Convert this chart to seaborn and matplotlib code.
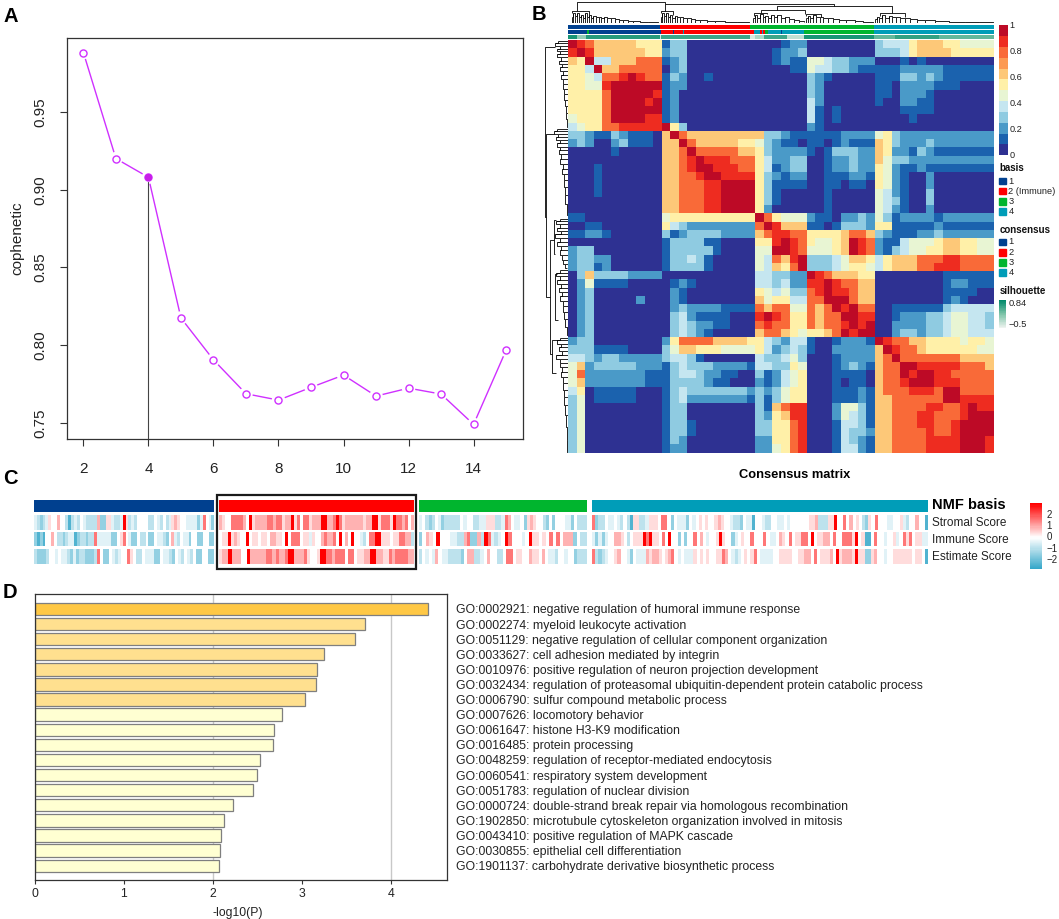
import numpy as np
import pandas as pd
import matplotlib
matplotlib.use("Agg")
import matplotlib.pyplot as plt
from matplotlib.colors import ListedColormap, LinearSegmentedColormap
from matplotlib.patches import Rectangle
import seaborn as sns

# ---------- panel A ----------
ranks = [2, 3, 4, 5, 6, 7, 8, 9, 10, 11, 12, 13, 14, 15]
cophenetic = [0.9882, 0.920, 0.908, 0.8175, 0.7906, 0.7688, 0.7647, 0.7729,
              0.7808, 0.7673, 0.7724, 0.7686, 0.7491, 0.7968]
best_rank = 4

# ---------- panel B ----------
# consensus levels on a coarse grid (0..9, a = colour band)
consensus_rows = """
a9877777666 13300000000 000122 00000000 34446777665555
9a977777766 23300000000 001223 00000000 33346777766666
76a44777888 12300000000 001211 55433222 00010100000000
664a7788888 02300000000 000011 54433211 11122222111111
6654889a988 13200100000 000000 32100000 11133232111111
66559aaaaaa 12200000000 000000 32000000 11022221110000
66668aaaaa9 12000000000 000000 32000000 11022210000000
66668aaaa9a 12000000000 000000 42000000 10022110000000
66668aaaaaa 12000000000 000000 41010000 00011110000000
56668aaaa99 12000000000 000000 41010000 00001000000000
45668899999 a6300000000 000000 21000000 00000000000000
33211321110 7a877777777 733211 11112222 56322222222222
23200231110 77a87777766 532110 11012111 76322232222222
00000100000 778a8888877 632222 10133322 76221321111111
00000000000 7789a999888 642233 00122322 75332222222222
00010000000 7789aa99988 641233 00122322 65211211111111
00010000000 77889aa9999 632122 00111221 65210020000000
00010000000 7788899aaaa 631111 00110110 65210020000000
00010000000 7788899aaaa 631000 00100000 54210030000000
00000000000 7788899aaaa 631000 00100000 54310030000000
00000000000 7788899aaaa 620000 00100000 54210020000000
11000000000 56666666666 a86555 21102232 53122221222222
00110000000 64322222222 8a9777 11013332 66111112111111
11221000000 31233332222 789988 66667887 32111223222222
00000000000 13333110000 669a98 65567a98 21145556776655
23300000000 13333310000 55aa98 55567a98 21345566776655
23322000000 13343100000 54879a 33345776 46777888998888
23312000000 13333100000 54768a 33345665 46777889998888
03733332222 00000000000 443322 a9877766 00000000111111
02511110000 01210000000 443422 99a98877 00000000122111
02300000000 02100000000 654533 89a99877 00000000111100
02300000200 02100000000 756644 88aaa877 00000000121000
02300000000 02322221111 878855 878a9a88 00111111344444
02300000000 03421111000 9a9866 8788aa99 00122233455443
02300000000 03432211000 898866 87889a9a 00222233455443
02300000000 03432100000 788765 6678a9aa 00233233455444
23300000000 26888877776 643244 10012221 a9887766665665
33311110000 35776665555 642343 10022222 7a988766666655
44323322222 34431000000 433453 00012222 78a88888887777
57233333222 13433322221 443365 00012321 788aa999998887
58222222211 13443221100 312456 00011110 788a9aa9988888
57222222211 13333211000 212456 00010110 7889aaa9998888
46011111000 13433333332 323566 00011121 78889998aa8888
35011111000 13422222221 313566 00011121 77888888aa9999
35000000000 13300000000 317899 00025531 77888899889a99
35000000000 13300000000 326799 00025431 77888998889aaa
35000000000 13310000000 336689 00014431 7788899889aaaa
35000000000 13310000000 336689 00014332 7788889889aaaa
35000000000 13200000000 226689 00014321 7788889999aaa9
35000000000 12200000000 225689 00014421 7788889999aaa9
"""
band_of_char = {"0": 0, "1": 1, "2": 2, "3": 3, "4": 4, "5": 5, "6": 6,
                "7": 7, "8": 9, "9": 10, "a": 11}
band_colors = ["#2E3192", "#1B62AE", "#4A9AC8", "#8FCBE1", "#C5E6F0", "#E8F5D3",
               "#FFF0A8", "#FDC878", "#FC9A52", "#F96A38", "#EE2C20", "#BD0A26"]
band_ticks = ["0", "0.2", "0.4", "0.6", "0.8", "1"]

basis_colors = ["#00408F", "#FF0000", "#00B52E", "#009DB8"]
basis_runs = [(0, 273), (1, 270), (2, 368), (3, 357)]
consensus_runs = [(0, 58), (2, 4), (0, 216), (1, 35), (0, 3), (1, 25), (3, 4), (1, 208),
                  (3, 18), (1, 5), (3, 5), (1, 5), (2, 10), (3, 37), (0, 3), (3, 67),
                  (2, 208), (3, 357)]
silhouette_runs = [(0.9, 28), (0.4, 25), (0.85, 220), (0.1, 5), (0.75, 265), (0.1, 15),
                   (0.3, 25), (0.75, 70), (0.2, 50), (0.9, 208), (0.6, 62), (0.8, 130),
                   (0.6, 165)]

# dendrogram merges: (left pos, left end, right pos, right end, height)
top_merges = [(133, 30, 396, 8, 3), (396, 32, 900, 16, 8), (728, 28, 1072, 38, 16),
              (680, 38, 812, 40, 28), (662, 46, 700, 40, 36), (1035, 46, 1110, 50, 38),
              (120, 38, 170, 42, 30), (385, 38, 420, 44, 32), (815, 46, 860, 48, 40)]
top_stairs = [
    [(118, 50), (122, 38), (128, 46), (134, 36), (140, 50), (146, 42), (152, 52), (158, 38), (164, 48),
     (170, 44), (176, 54), (182, 46), (190, 50), (198, 48), (206, 54), (214, 50), (224, 54), (234, 52),
     (246, 56), (258, 58), (270, 60), (285, 61), (300, 63), (320, 64), (345, 66), (375, 67)],
    [(384, 50), (388, 36), (394, 46), (400, 38), (406, 50), (412, 44), (418, 52), (424, 46), (432, 50),
     (440, 48), (450, 54), (460, 52), (472, 56), (486, 58), (500, 60), (520, 62), (545, 63), (575, 65),
     (610, 66), (645, 67)],
    [(658, 54), (664, 44), (670, 52), (678, 40), (686, 50), (694, 46), (702, 52), (710, 44), (720, 50),
     (730, 44), (742, 52), (754, 50), (766, 56), (780, 60), (795, 63), (808, 66)],
    [(814, 54), (820, 46), (828, 52), (836, 44), (846, 50), (856, 48), (866, 54), (880, 52), (895, 56),
     (915, 58), (935, 60), (960, 62), (985, 65), (1014, 67)],
    [(1020, 56), (1026, 48), (1034, 54), (1042, 44), (1052, 52), (1062, 46), (1072, 50), (1084, 50),
     (1096, 54), (1110, 52), (1126, 56), (1145, 58), (1170, 60), (1200, 62), (1240, 64), (1290, 65),
     (1330, 66), (1372, 67)],
]
left_merges = [(140, 72, 650, 47, 44), (400, 70, 890, 57, 47), (720, 68, 1060, 62, 57),
               (660, 75, 760, 72, 68), (1020, 80, 1120, 75, 62), (820, 76, 960, 80, 72)]
left_stairs = [
    [(122, 80), (128, 72), (136, 84), (144, 76), (152, 86), (160, 78), (170, 88), (180, 82), (190, 90),
     (200, 84), (212, 92), (224, 88), (236, 94), (250, 92), (264, 96), (280, 97), (298, 100), (316, 101),
     (336, 102), (356, 104), (378, 106)],
    [(385, 76), (392, 70), (400, 80), (408, 74), (418, 84), (428, 78), (438, 86), (450, 82), (462, 88),
     (476, 86), (490, 92), (505, 90), (520, 95), (540, 96), (560, 98), (585, 100), (610, 103), (645, 106)],
    [(655, 84), (662, 75), (672, 84), (682, 78), (692, 88), (702, 72), (712, 84), (724, 78), (736, 88),
     (750, 84), (764, 90), (778, 94), (792, 100), (803, 105)],
    [(810, 84), (818, 75), (828, 84), (838, 78), (850, 88), (862, 82), (874, 90), (888, 86), (902, 92),
     (918, 94), (936, 96), (956, 100), (980, 103), (1005, 106)],
    [(1012, 86), (1020, 78), (1030, 88), (1040, 82), (1052, 90), (1064, 75), (1076, 86), (1088, 84),
     (1100, 90), (1116, 88), (1132, 92), (1150, 92), (1170, 95), (1192, 97), (1216, 98), (1245, 101),
     (1280, 103), (1320, 105), (1355, 106)],
]

# ---------- panel C ----------
score_names = ["Stromal Score", "Immune Score", "Estimate Score"]
score_level = {"D": -2.4, "C": -1.5, "B": -0.9, "A": -0.4, "0": 0.0,
               "1": 0.4, "2": 0.9, "3": 1.6, "4": 3.0}
blue_scores = [
    "ABCBA100200BDBAB0ABBBB2CC11ABBA41BAB0000BB0AB0BA12100AAAACA30AC",
    "CDCD0020BBCBAADCBBCBB3AAAAACC0130ACC0BB0CC0AABC02AB0AAC00CC00CC",
    "BCCCB00A0AABCACBBCCCB30CC0ABA00310BB0AAACC0AABC0AB0AB0CC00CC",
]
red_scores = [
    "21003333204122" "2233233122413033122244223431222222122441333143323 02".replace(" ", ""),
    "01141210040110" "110221104033301 1A10023 22304020400AB03344111011 33 22B".replace(" ", ""),
    "1224222004222" "223323223 442223100144332333033011224422113233332 2".replace(" ", ""),
]
green_scores = [
    "A0BCB0ACBBBBB0A00BBAA" "111BBA320AA0C1210 0BC0C000AAC0BBB".replace(" ", ""),
    "C0210400 0AABB23CC2B".replace(" ", "") + "43ABA0430 00A0411010303022 2C0BB".replace(" ", ""),
    "B0A0A20AABBBBC022BBA0" "200BB0330110021 102 0AAB00A00CBBB".replace(" ", ""),
]
teal_scores = [
    "3CBB0AA0AB0BD11BBA1110330C0AAAC0A01010"
    "0121 00ABBC 0AAD00ABB00AA0A0000001 12BBB1140 030201 0BC10300 0AA0 01AB00200D".replace(" ", ""),
    "ACACA00221 0B01114341 103040 0C0C0030 20A".replace(" ", "")
    + "0014 1 00CA0100300 03 0AA0210 30113 304 0112 20 30 0333 14 01DD03 00A00 1A0 3 13 011AA".replace(" ", ""),
    "3BCBA0012 00AC0AAA2122101230A0AAA10 1010".replace(" ", "")
    + "0113 20AB A0 1013 0AAAA0011110 01122 0301112 041 222 14 11CC12 00A00111111 0110D".replace(" ", ""),
]
color_scale_ticks = [2, 1, 0, -1, -2]

# ---------- panel D ----------
go_terms = [
    "GO:0002921: negative regulation of humoral immune response",
    "GO:0002274: myeloid leukocyte activation",
    "GO:0051129: negative regulation of cellular component organization",
    "GO:0033627: cell adhesion mediated by integrin",
    "GO:0010976: positive regulation of neuron projection development",
    "GO:0032434: regulation of proteasomal ubiquitin-dependent protein catabolic process",
    "GO:0006790: sulfur compound metabolic process",
    "GO:0007626: locomotory behavior",
    "GO:0061647: histone H3-K9 modification",
    "GO:0016485: protein processing",
    "GO:0048259: regulation of receptor-mediated endocytosis",
    "GO:0060541: respiratory system development",
    "GO:0051783: regulation of nuclear division",
    "GO:0000724: double-strand break repair via homologous recombination",
    "GO:1902850: microtubule cytoskeleton organization involved in mitosis",
    "GO:0043410: positive regulation of MAPK cascade",
    "GO:0030855: epithelial cell differentiation",
    "GO:1901137: carbohydrate derivative biosynthetic process",
]
minus_log_p = [4.41, 3.70, 3.59, 3.246, 3.164, 3.156, 3.03, 2.775, 2.69, 2.674,
               2.524, 2.494, 2.446, 2.225, 2.128, 2.087, 2.076, 2.068]
go_colors = ["#FFC845"] + ["#FFE08F"] * 6 + ["#FFFFD2"] * 11

# ---------- drawing ----------
sns.set_theme(style="white")
plt.rcParams["font.family"] = ["Liberation Sans", "DejaVu Sans"]
plt.rcParams["axes.unicode_minus"] = True

W, H = 1059, 919
fig = plt.figure(figsize=(W / 100, H / 100), dpi=100, facecolor="white")


def pax(x0, y0, x1, y1):
    return fig.add_axes([x0 / W, 1 - y1 / H, (x1 - x0) / W, (y1 - y0) / H])


def ftext(x, y, s, **kw):
    kw.setdefault("va", "center")
    kw.setdefault("color", "#111111")
    fig.text(x / W, 1 - y / H, s, **kw)


for letter, (lx, ly) in {"A": (3, 16), "B": (532, 15), "C": (3, 478), "D": (3, 592)}.items():
    ftext(lx, ly, letter, fontsize=14.5, fontweight="bold", color="black")

# A
ax = pax(66.5, 37.6, 523, 439)
a_df = pd.DataFrame({"rank": ranks, "cophenetic": cophenetic})
purple = "#CF30FF"
sns.lineplot(data=a_df, x="rank", y="cophenetic", ax=ax, color=purple, lw=1.0, zorder=2)
sns.scatterplot(data=a_df, x="rank", y="cophenetic", ax=ax, s=95, color="white",
                edgecolor="none", zorder=3, legend=False)
sns.scatterplot(data=a_df, x="rank", y="cophenetic", ax=ax, s=26, color="white",
                edgecolor=purple, linewidth=1.0, zorder=4, legend=False)
ax.plot([best_rank], [cophenetic[ranks.index(best_rank)]], "o", ms=5.2, color="#C81EE8", mew=0, zorder=5)
ax.plot([best_rank, best_rank], [0.7397, 0.905], color="#444444", lw=0.8, zorder=3.5)
ax.set_xlim(1.48, 15.52)
ax.set_ylim(0.7397, 0.9978)
ax.set_xticks([2, 4, 6, 8, 10, 12, 14])
ax.set_yticks([0.75, 0.80, 0.85, 0.90, 0.95])
ax.set_yticklabels(["0.75", "0.80", "0.85", "0.90", "0.95"], rotation=90, va="center")
ax.tick_params(axis="both", length=5, width=0.8, color="#333333", labelsize=11, labelcolor="#222222", left=True, bottom=True)
ax.tick_params(axis="x", pad=11.5)
ax.tick_params(axis="y", pad=9)
ax.set_xlabel("")
ax.set_ylabel("cophenetic", fontsize=11, color="#222222", labelpad=6)
for s in ax.spines.values():
    s.set_color("#333333")
    s.set_linewidth(0.9)

# B
HL, HR, HT, HB = 568, 994, 40, 452.7
rows = [r.replace(" ", "") for r in consensus_rows.strip().splitlines()]
assert all(len(r) == 50 for r in rows), [len(r) for r in rows]
levels = np.array([[band_of_char[c] for c in r] for r in rows])
band_cmap = ListedColormap(band_colors)
ax = pax(HL, HT, HR, HB)
sns.heatmap(levels, ax=ax, cmap=band_cmap, vmin=-0.5, vmax=11.5, cbar=False,
            xticklabels=False, yticklabels=False, rasterized=True)

# annotation strips
cat_cmap = ListedColormap(basis_colors)
for (y0, y1, runs) in [(25.3, 29, basis_runs), (30, 33.7, consensus_runs)]:
    ax = pax(HL, y0, HR, y1)
    arr = np.concatenate([np.repeat(v, n) for v, n in runs])[None, :]
    sns.heatmap(arr, ax=ax, cmap=cat_cmap, vmin=-0.5, vmax=3.5, cbar=False,
                xticklabels=False, yticklabels=False)
sil_cmap = LinearSegmentedColormap.from_list("sil", ["#EEF3EF", "#7CC4A8", "#00896A"])
ax = pax(HL, 35, HR, 38.7)
arr = np.concatenate([np.repeat(v, n) for v, n in silhouette_runs])[None, :]
sns.heatmap(arr, ax=ax, cmap=sil_cmap, vmin=0, vmax=1, cbar=False, xticklabels=False, yticklabels=False)

# dendrograms
dk = dict(color="black", lw=0.6, solid_capstyle="butt")
ax = pax(HL, 1, HR, 23)
for xl, bl, xr, br, h in top_merges:
    ax.plot([xl, xl, xr, xr], [bl, h, h, br], **dk)
for st in top_stairs:
    for (x0, h0), (x1, h1) in zip(st[:-1], st[1:]):
        ax.plot([x0, x0], [68, h0], **dk)
        ax.plot([x0, x1, x1], [h0, h0, h1], **dk)
    ax.plot([st[0][0], st[-1][0]], [68, 68], **dk)
ax.set_xlim(107, 1375)
ax.set_ylim(68, 0)
ax.axis("off")

ax = pax(545, HT, HL, HB)
for yl, dl, yr, dr, d in left_merges:
    ax.plot([dl, d, d, dr], [yl, yl, yr, yr], **dk)
for st in left_stairs:
    for (y0, d0), (y1, d1) in zip(st[:-1], st[1:]):
        ax.plot([d0, 107], [y0, y0], **dk)
        ax.plot([d0, d0, d1], [y0, y1, y1], **dk)
    ax.plot([106, 106], [st[0][0], st[-1][0]], **dk)
ax.set_xlim(44, 107)
ax.set_ylim(1358, 118)
ax.axis("off")

# colour bar B
ax = pax(999.3, 25.3, 1007.7, 155.3)
sns.heatmap(np.arange(12)[:, None], ax=ax, cmap=band_cmap, vmin=-0.5, vmax=11.5, cbar=False,
            xticklabels=False, yticklabels=False)
ax.invert_yaxis()
for lab, y in zip(band_ticks, [155, 129.5, 104, 78, 52, 26]):
    ftext(1009.5, y, lab, fontsize=6.6, color="#222222")

# legends B
ftext(999.5, 168, "basis", fontsize=7, fontweight="bold")
for c, lab, y in zip(basis_colors, ["1", "2 (Immune)", "3", "4"], [181, 191, 201.2, 211.4]):
    fig.patches.append(Rectangle((999.3 / W, 1 - (y + 3.3) / H), 6.7 / W, 6.6 / H, transform=fig.transFigure, color=c))
    ftext(1008.3, y, lab, fontsize=6.7, color="#222222")
ftext(999.5, 230, "consensus", fontsize=7, fontweight="bold")
for c, lab, y in zip(basis_colors, ["1", "2", "3", "4"], [242, 252.3, 262.5, 272.7]):
    fig.patches.append(Rectangle((999.3 / W, 1 - (y + 3.3) / H), 6.7 / W, 6.6 / H, transform=fig.transFigure, color=c))
    ftext(1008.3, y, lab, fontsize=6.7, color="#222222")
ftext(999.5, 291, "silhouette", fontsize=7, fontweight="bold")
ax = pax(999.3, 300, 1006, 328)
sns.heatmap(np.linspace(1, 0, 40)[:, None], ax=ax, cmap=sil_cmap, vmin=0, vmax=1, cbar=False,
            xticklabels=False, yticklabels=False)
ftext(1008.3, 303.5, "0.84", fontsize=6.7, color="#222222")
ftext(1008.3, 324.5, "\u22120.5", fontsize=6.7, color="#222222")
ftext(795, 474.7, "Consensus matrix", fontsize=9.3, fontweight="bold", ha="center", color="black")

# C
blocks = [(34, 214.3, 0, blue_scores), (219, 414, 1, red_scores),
          (419, 587, 2, green_scores), (592, 928, 3, teal_scores)]
row_y = [(515, 530), (532, 546.3), (549, 563.5)]
score_cmap = LinearSegmentedColormap.from_list(
    "score", [(0, "#35A7C9"), (2.8 / 5.8, "#FFFFFF"), (1, "#FF0000")])
for x0, x1, cidx, strs in blocks:
    ax = pax(x0, 499.7, x1, 511.7)
    ax.add_patch(Rectangle((0, 0), 1, 1, transform=ax.transAxes, color=basis_colors[cidx]))
    ax.axis("off")
    for (y0, y1), s in zip(row_y, strs):
        ax = pax(x0, y0, x1, y1)
        vals = np.array([[score_level[c] for c in s]])
        sns.heatmap(vals, ax=ax, cmap=score_cmap, vmin=-2.8, vmax=3.0, cbar=False,
                    xticklabels=False, yticklabels=False)
fig.patches.append(Rectangle((217 / W, 1 - 569 / H), (416 - 217) / W, (569 - 495) / H, transform=fig.transFigure,
                             fill=False, ec="#1A1A1A", lw=1.6))
ftext(931.7, 505, "NMF basis", fontsize=10.5, fontweight="bold", color="black")
for name, y in zip(score_names, [523, 540, 556.5]):
    ftext(931.7, y, name, fontsize=8.5, color="#222222")
ax = pax(1030, 503.3, 1042, 569.3)
sns.heatmap(np.linspace(3, -2.8, 60)[:, None], ax=ax, cmap=score_cmap, vmin=-2.8, vmax=3.0, cbar=False,
            xticklabels=False, yticklabels=False)
for t in color_scale_ticks:
    ftext(1046.5, 537.5 - 11.25 * t, str(t).replace("-", "\u2212"), fontsize=7, color="#222222")

# D
ax = pax(34.5, 594, 447, 880)
d_df = pd.DataFrame({"term": go_terms, "p": minus_log_p})
ax.axvline(2, color="#C8C8C8", lw=1, zorder=0)
ax.axvline(4, color="#C8C8C8", lw=1, zorder=0)
sns.barplot(data=d_df, x="p", y="term", hue="term", palette=go_colors, legend=False, ax=ax,
            orient="h", width=0.815, saturation=1, edgecolor="#7F7F7F", linewidth=0.9, zorder=2)
ax.set_xlim(0, 4.624)
ax.set_ylim(17.95, -0.99)
ax.set_xticks([0, 1, 2, 3, 4])
ax.yaxis.tick_right()
ax.tick_params(axis="y", length=0, pad=6.5, labelsize=8.82, labelcolor="#222222")
ax.tick_params(axis="x", length=3, width=0.8, color="#333333", labelsize=8.8, labelcolor="#222222", bottom=True, pad=3)
ax.set_xlabel("-log10(P)", fontsize=8.8, color="#222222")
ax.xaxis.set_label_coords((238 - 34.5) / (447 - 34.5), -0.094, transform=ax.transAxes)
ax.set_ylabel("")
for s in ax.spines.values():
    s.set_color("#333333")
    s.set_linewidth(0.9)

fig.savefig("out.png", dpi=100, facecolor="white")
